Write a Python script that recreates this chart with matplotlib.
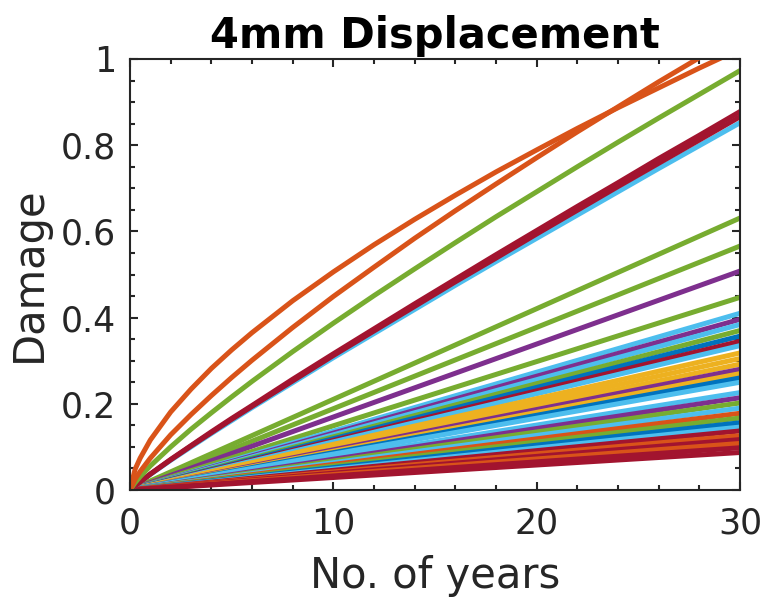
import matplotlib
matplotlib.use("Agg")
import matplotlib.pyplot as plt
from matplotlib.ticker import MultipleLocator

plt.rcParams['font.family'] = ['DejaVu Sans']

# ---- data ----
years = [0, 0.25, 0.5, 1, 2, 3, 4, 5, 6, 8, 10, 12, 14, 16, 18, 20, 22, 24, 26, 28, 30]

orange_a = [0, 0.048, 0.074, 0.116, 0.181, 0.234, 0.282, 0.325, 0.365, 0.439, 0.506,
            0.569, 0.628, 0.684, 0.738, 0.789, 0.839, 0.887, 0.933, 0.979, 1.023]
orange_b = [0, 0.025, 0.043, 0.074, 0.128, 0.175, 0.219, 0.261, 0.301, 0.377, 0.449,
            0.517, 0.584, 0.648, 0.710, 0.771, 0.831, 0.889, 0.947, 1.003, 1.058]
green_top = [0, 0.017, 0.031, 0.056, 0.100, 0.141, 0.179, 0.216, 0.252, 0.321, 0.387,
             0.451, 0.513, 0.574, 0.634, 0.692, 0.750, 0.807, 0.863, 0.918, 0.973]
red_a = [0, 0.010, 0.019, 0.037, 0.071, 0.103, 0.135, 0.166, 0.196, 0.257, 0.316,
         0.374, 0.432, 0.489, 0.546, 0.602, 0.658, 0.713, 0.769, 0.823, 0.878]
red_b = [0, 0.010, 0.019, 0.037, 0.070, 0.102, 0.133, 0.164, 0.194, 0.253, 0.312,
         0.369, 0.426, 0.483, 0.538, 0.594, 0.649, 0.704, 0.758, 0.812, 0.866]
lblue_top = [0, 0.010, 0.019, 0.036, 0.069, 0.100, 0.131, 0.161, 0.191, 0.249, 0.307,
             0.363, 0.419, 0.475, 0.530, 0.584, 0.638, 0.692, 0.746, 0.799, 0.852]

# straight lines from origin: damage after 30 years
line_start_year = 0
line_end_year = 30
line_end_damage = [0.631, 0.566, 0.508, 0.447, 0.410, 0.396, 0.384, 0.370, 0.357, 0.345,
                   0.335, 0.318, 0.305, 0.292, 0.280, 0.270, 0.260, 0.250, 0.226, 0.214,
                   0.202, 0.190, 0.178, 0.167, 0.156, 0.146, 0.137, 0.126, 0.117, 0.108,
                   0.098, 0.087]
line_color_key = ['G', 'G', 'P', 'G', 'LB', 'P', 'LB', 'G', 'B', 'R',
                  'LB', 'Y', 'Y', 'Y', 'P', 'Y', 'B', 'LB', 'LB', 'P',
                  'G', 'LB', 'O', 'G', 'B', 'LB', 'R', 'O', 'R', 'O',
                  'R', 'R']

palette = {'B': '#0072BD', 'O': '#D95319', 'Y': '#EDB120', 'P': '#7E2F8E',
           'G': '#77AC30', 'LB': '#4DBEEE', 'R': '#A2142F'}

x_ticks = [0, 10, 20, 30]
y_ticks = [0, 0.2, 0.4, 0.6, 0.8, 1]
y_tick_labels = ['0', '0.2', '0.4', '0.6', '0.8', '1']

# ---- figure ----
fig = plt.figure(figsize=(7.68, 6.01), dpi=100)
ax = fig.add_axes([130/768, 1-490/601, 610/768, 431/601])

lw = 3.6
for end, key in zip(line_end_damage, line_color_key):
    ax.plot([line_start_year, line_end_year], [0, end], color=palette[key], lw=lw)

ax.plot(years, lblue_top, color=palette['LB'], lw=lw)
ax.plot(years, red_b, color=palette['R'], lw=lw)
ax.plot(years, red_a, color=palette['R'], lw=lw)
ax.plot(years, green_top, color=palette['G'], lw=lw)
ax.plot(years, orange_b, color=palette['O'], lw=lw)
ax.plot(years, orange_a, color=palette['O'], lw=lw)

ax.set_xlim(0, 30)
ax.set_ylim(0, 1)
ax.set_xticks(x_ticks)
ax.set_yticks(y_ticks)
ax.set_yticklabels(y_tick_labels)
ax.xaxis.set_minor_locator(MultipleLocator(2))
ax.yaxis.set_minor_locator(MultipleLocator(0.05))

tc = '#262626'
ax.tick_params(which='both', direction='in', top=True, right=True,
               colors=tc, width=1.5)
ax.tick_params(which='major', length=6, labelsize=25, pad=10)
ax.tick_params(axis='x', which='major', pad=12)
ax.tick_params(which='minor', length=3.5)
for s in ax.spines.values():
    s.set_linewidth(1.5)
    s.set_color(tc)

ax.set_xlabel('No. of years', fontsize=30, color=tc, labelpad=10)
ax.set_ylabel('Damage', fontsize=30, color=tc, labelpad=8)
ax.set_title('4mm Displacement', fontsize=30, fontweight='bold', color='black', pad=8)

fig.savefig('out.png', dpi=100)
